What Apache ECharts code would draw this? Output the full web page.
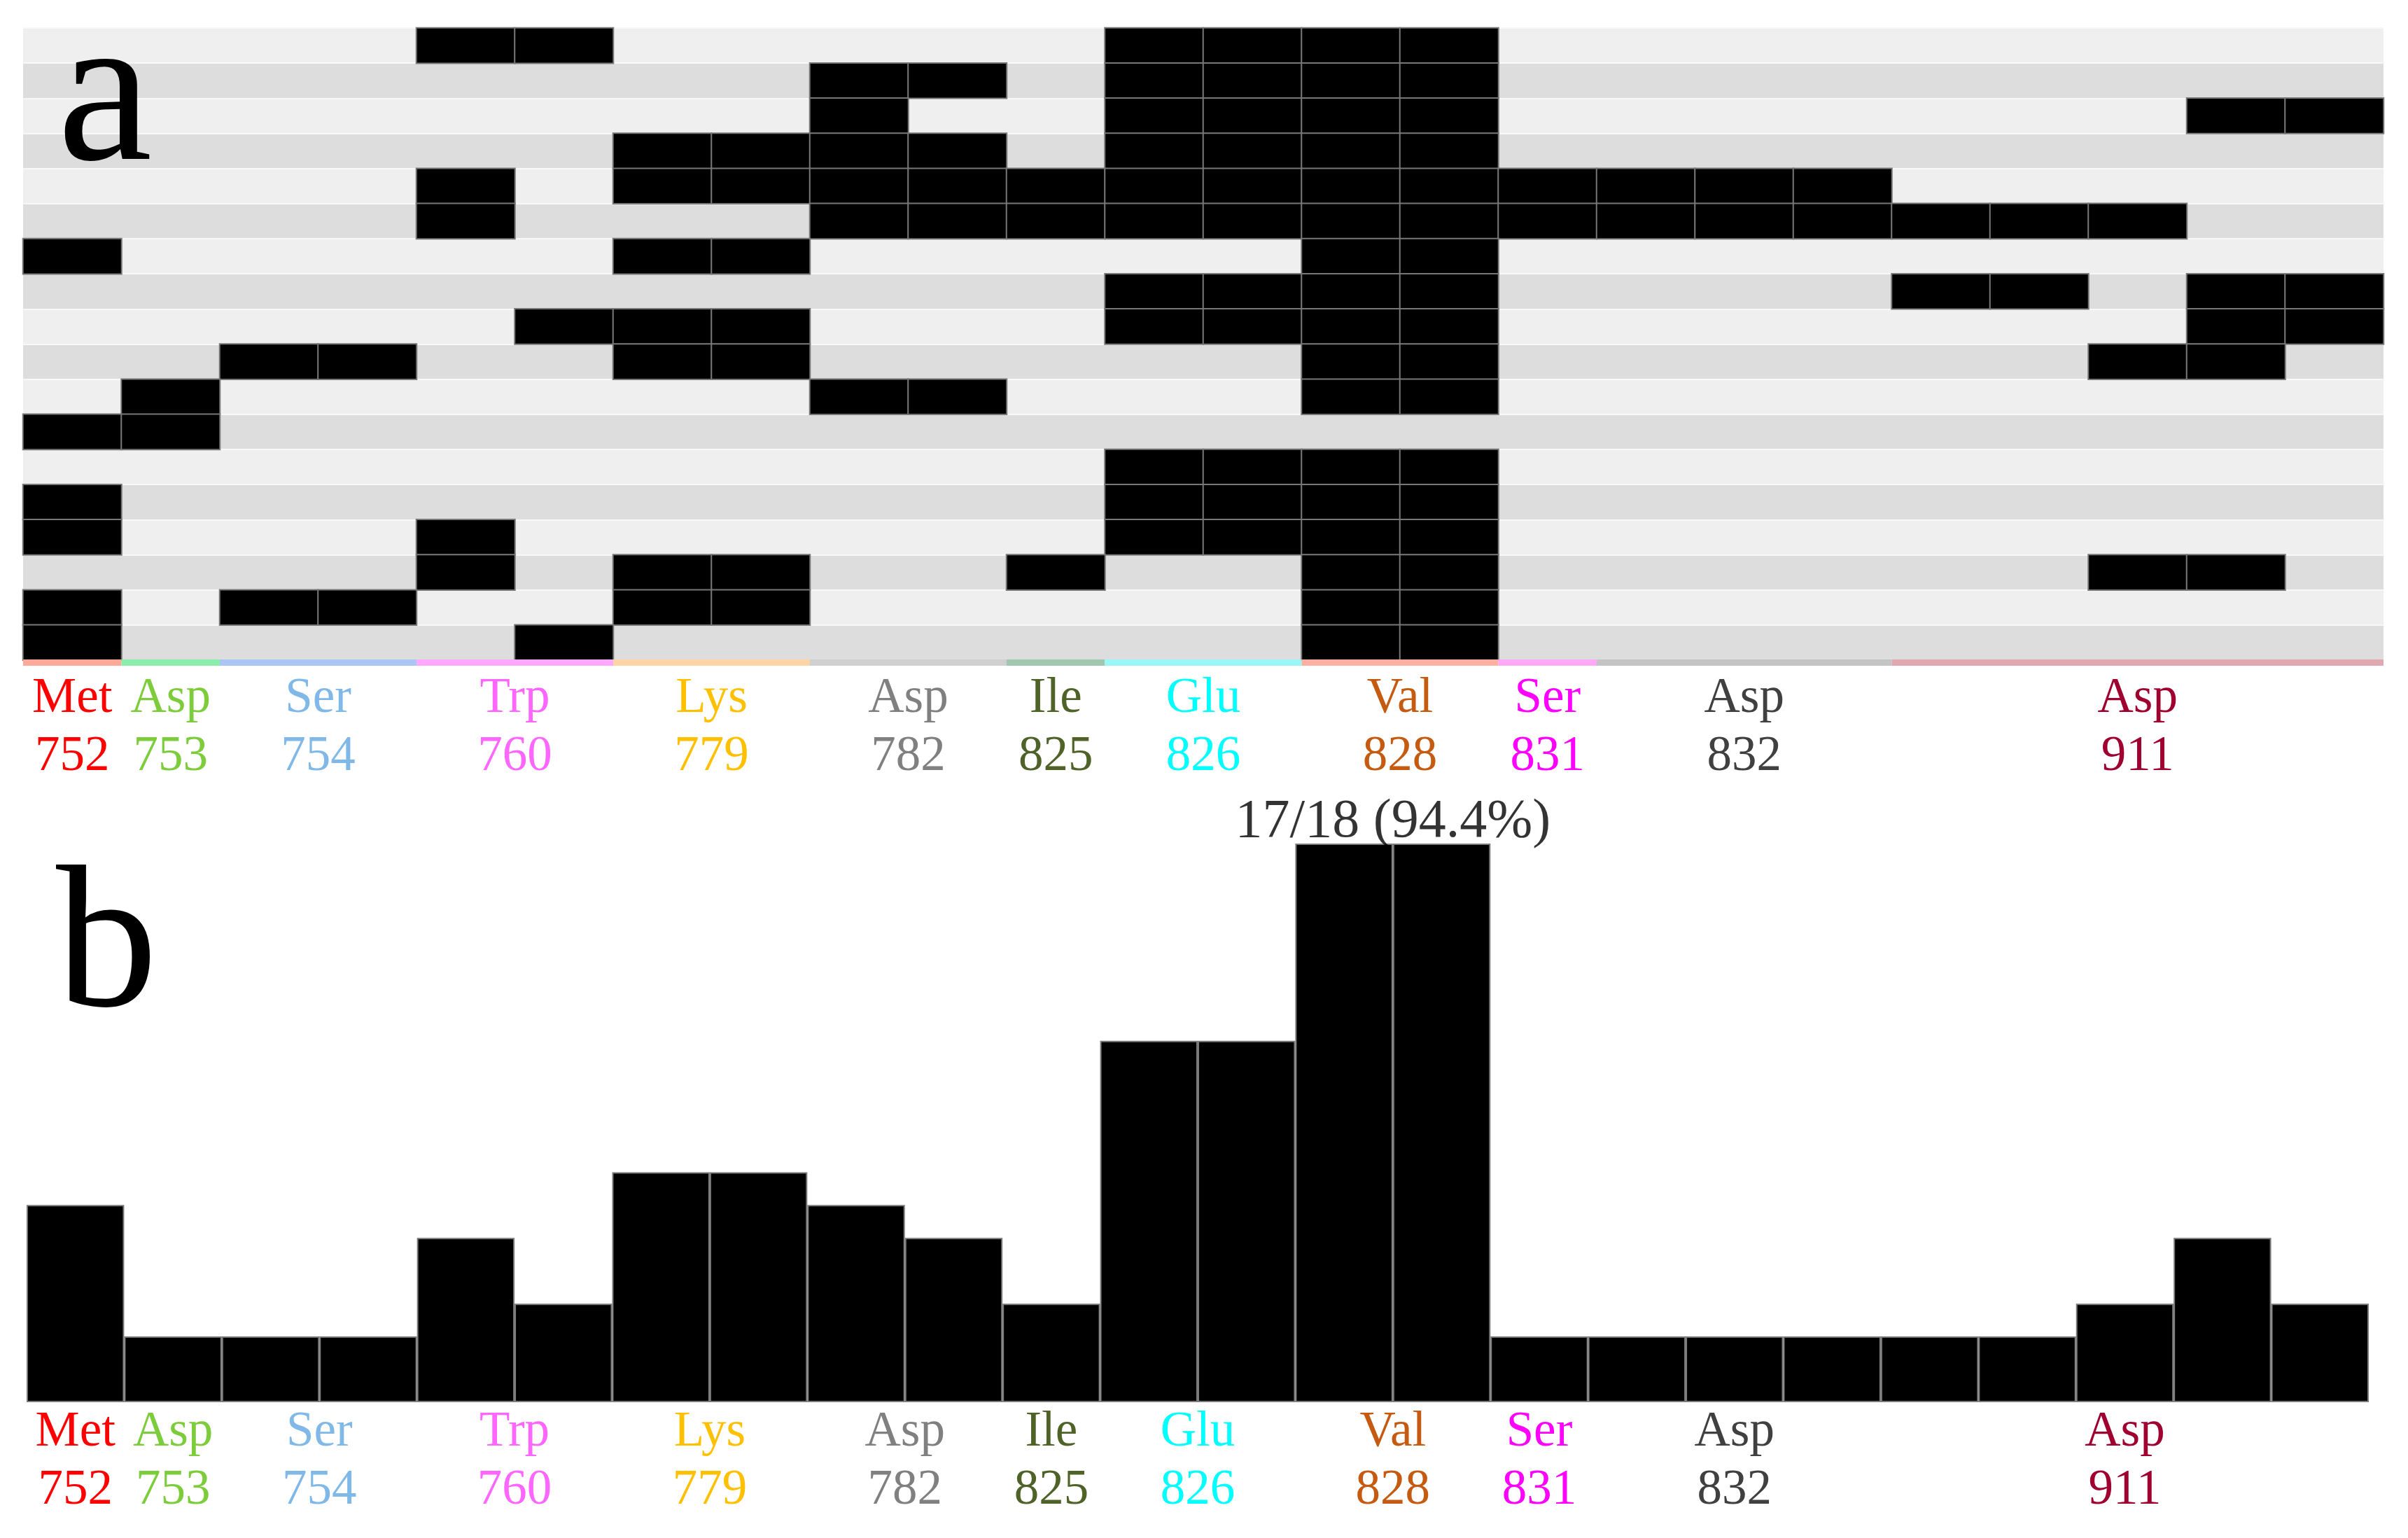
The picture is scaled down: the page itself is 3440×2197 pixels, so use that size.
<!DOCTYPE html>
<html><head><meta charset="utf-8">
<script src="https://cdn.jsdelivr.net/npm/echarts@6/dist/echarts.min.js"></script>
<style>html,body{margin:0;padding:0;background:#fff}#c{width:3440px;height:2197px}</style>
</head><body><div id="c"></div>
<script>
// ---- data ----
const residueNames   = ['Met','Asp','Ser','Trp','Lys','Asp','Ile','Glu','Val','Ser','Asp','Asp'];
const residueNumbers = ['752','753','754','760','779','782','825','826','828','831','832','911'];
const residueSpans   = [1,1,2,2,2,2,1,2,2,1,3,5];   // number of columns per residue
// 18 samples (rows) x 24 columns, '1' = contact present
const sampleRows = [
  '000011000001111000000000',
  '000000001101111000000000',
  '000000001001111000000011',
  '000000111101111000000000',
  '000010111111111111100000',
  '000010001111111111111100',
  '100000110000011000000000',
  '000000000001111000011011',
  '000001110001111000000011',
  '001100110000011000000110',
  '010000001100011000000000',
  '110000000000000000000000',
  '000000000001111000000000',
  '100000000001111000000000',
  '100010000001111000000000',
  '000010110010011000000110',
  '101100110000011000000000',
  '100001000000011000000000'
];
const barCounts = [6,2,2,2,5,3,7,7,6,5,3,11,11,17,17,2,2,2,2,2,2,3,5,3];
const sampleTotal = 18;

// ---- styles ----
const labelColors = ['#ff0000','#7ccc3c','#80b8e8','#ff66ff','#ffc000','#808080','#4f6228','#00ffff','#c55a11','#ff00ff','#404040','#a00030'];
const stripColors = ['#ffaa99','#88eeaa','#aac6f6','#ffa8ff','#ffd4a6','#d0d0d0','#a0c8b0','#99f7f7','#ffb0a0','#ffaaf8','#c4c4c4','#e0a8b0'];
const FONT = '"Liberation Serif", "Times New Roman", serif';

// ---- derived structures ----
const nCols = sampleRows[0].length;
const columnIds = Array.from({length: nCols}, (_, i) => 'c' + i);
const rowIds = sampleRows.map((_, i) => 's' + i);
const heatCells = [];
sampleRows.forEach((row, r) => {
  for (let c = 0; c < row.length; c++) if (row[c] === '1') heatCells.push([c, r, 1]);
});
const residueStarts = [];
residueSpans.reduce((acc, s) => { residueStarts.push(acc); return acc + s; }, 0);
const residueCenters = residueStarts.map((s, i) => s + residueSpans[i] / 2);
const stripData = residueStarts.map((s, i) => [s, s + residueSpans[i], i]);

const peakValue = Math.max(...barCounts);
const peakIdx = barCounts.map((v, i) => v === peakValue ? i : -1).filter(i => i >= 0);
const peakX = peakIdx.reduce((a, i) => a + i + 0.5, 0) / peakIdx.length;

const rich = {};
labelColors.forEach((col, i) => {
  rich['r' + i] = { color: col, fontSize: 71, fontFamily: FONT, lineHeight: 83 };
});
function residueLabel(v) {
  const i = residueCenters.findIndex(c => Math.abs(c - v) < 1e-6);
  if (i < 0) return '';
  return '{r' + i + '|' + residueNames[i] + '}\n{r' + i + '|' + residueNumbers[i] + '}';
}
function labelAxis(gridIndex, margin) {
  return {
    type: 'value', gridIndex, min: 0, max: nCols, interval: 0.5, position: 'bottom',
    axisLine: {show: false}, axisTick: {show: false}, splitLine: {show: false},
    axisLabel: {margin, formatter: residueLabel, rich, showMinLabel: true, showMaxLabel: true}
  };
}

const chart = echarts.init(document.getElementById('c'), null, {renderer: 'canvas'});
chart.setOption({
  animation: false,
  backgroundColor: '#ffffff',
  grid: [
    {left: 33, top: 40, width: 3372, height: 903},
    {left: 33, top: 942, width: 3372, height: 9},
    {left: 38, top: 1205, width: 3346, height: 798}
  ],
  xAxis: [
    {type: 'category', gridIndex: 0, data: columnIds, show: false},
    labelAxis(1, 6),
    {type: 'category', gridIndex: 2, data: columnIds, show: false},
    labelAxis(2, 2)
  ],
  yAxis: [
    {type: 'category', gridIndex: 0, data: rowIds, inverse: true,
     axisLine: {show: false}, axisTick: {show: false}, axisLabel: {show: false},
     splitArea: {show: true, interval: 0, areaStyle: {color: ['#efefef', '#dddddd']}},
     splitLine: {show: true, interval: 0, lineStyle: {color: '#f8f8f8', width: 2}}},
    {type: 'value', gridIndex: 1, min: 0, max: 1, show: false},
    {type: 'value', gridIndex: 2, min: 0, max: peakValue, show: false}
  ],
  visualMap: [{type: 'continuous', show: false, seriesIndex: 0, min: 0, max: 1,
               inRange: {color: ['#000000', '#000000']}}],
  graphic: [
    {type: 'text', z: 100, zlevel: 1, style: {text: 'a', x: 82, y: 147, font: '305px ' + FONT, fill: '#000',
      textAlign: 'left', textVerticalAlign: 'middle', align: 'left', verticalAlign: 'middle'}},
    {type: 'text', z: 100, zlevel: 1, style: {text: 'b', x: 80, y: 1360, font: '290px ' + FONT, fill: '#000',
      textAlign: 'left', textVerticalAlign: 'middle', align: 'left', verticalAlign: 'middle'}}
  ],
  series: [
    {type: 'heatmap', xAxisIndex: 0, yAxisIndex: 0, data: heatCells,
     itemStyle: {borderColor: '#777777', borderWidth: 2}, emphasis: {disabled: true}},
    {type: 'custom', xAxisIndex: 1, yAxisIndex: 1, data: stripData, silent: true,
     renderItem: function (params, api) {
       const p0 = api.coord([api.value(0), 1]);
       const p1 = api.coord([api.value(1), 0]);
       return {type: 'rect', shape: {x: p0[0], y: p0[1], width: p1[0] - p0[0], height: p1[1] - p0[1]},
               style: {fill: stripColors[api.value(2)]}};
     }},
    {type: 'bar', xAxisIndex: 2, yAxisIndex: 2, data: barCounts, barCategoryGap: '0%',
     itemStyle: {color: '#000000', borderColor: '#7a7a7a', borderWidth: 2}, silent: true},
    {type: 'scatter', xAxisIndex: 3, yAxisIndex: 2, data: [[peakX, peakValue]], symbolSize: 0, silent: true,
     label: {show: true, position: 'top', distance: -10, color: '#000000', fontSize: 78, fontFamily: FONT, lineHeight: 80,
       textBorderWidth: 0,
       formatter: function (p) {
         const v = p.value[1];
         return v + '/' + sampleTotal + ' (' + (v / sampleTotal * 100).toFixed(1) + '%)';
       }}}
  ]
});
</script></body></html>
